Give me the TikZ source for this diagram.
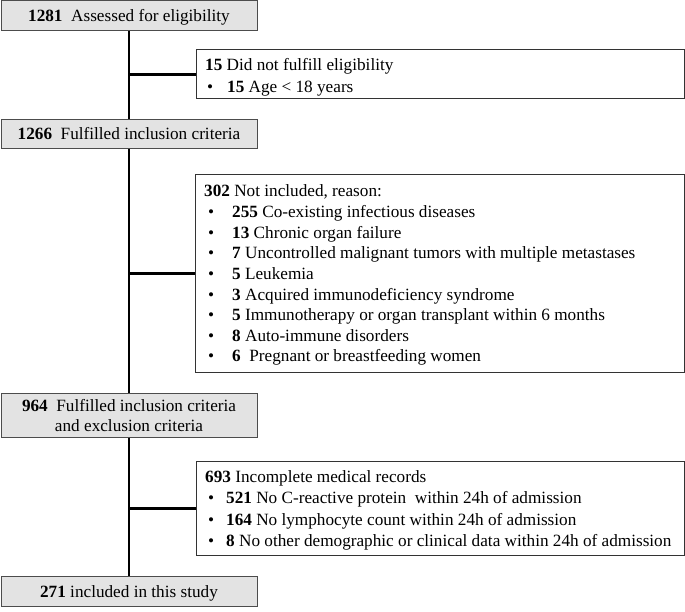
\documentclass[tikz,border=0pt]{standalone}
\usepackage{fontspec}
\setmainfont{Liberation Serif}
\begin{document}
\begin{tikzpicture}[x=1pt,y=-1pt,
  every node/.style={font=\fontsize{17.2}{20}\selectfont},
  graybox/.style={draw=black!70, fill=black!11, line width=1pt, inner sep=0pt, minimum width=256pt, align=center},
  sidebox/.style={draw=black!80, fill=white, line width=1pt, inner sep=0pt},
  conn/.style={line width=2.6pt, black},
  txt/.style={anchor=base west, inner sep=0pt},
  bul/.style={anchor=base west, inner sep=0pt}]
\useasboundingbox (0,0) rectangle (685,612);
% gray boxes
\node[graybox, minimum height=30pt] (b1) at (129,16) {};
\node[graybox, minimum height=29pt] (b3) at (129,134.5) {};
\node[graybox, minimum height=44pt] (b5) at (129,415) {};
\node[graybox, minimum height=30pt] (b7) at (129,591) {};
% trunk
\draw[conn] (b1.south) -- (b3.north);
\draw[conn] (b3.south) -- (b5.north);
\draw[conn] (b5.south) -- (b7.north);
% side boxes
\node[sidebox, minimum width=488pt, minimum height=49pt] (b2) at (440,74.5) {};
\node[sidebox, minimum width=489pt, minimum height=197pt] (b4) at (439.5,273.5) {};
\node[sidebox, minimum width=488pt, minimum height=94pt] (b6) at (440,508) {};
\draw[conn] (b2.west -| b1.south) -- (b2.west);
\draw[conn] (b4.west -| b1.south) -- (b4.west);
\draw[conn] ([yshift=-0.5pt]b6.west -| b1.south) -- ([yshift=-0.5pt]b6.west);
% gray box texts
\node[txt, anchor=base] (t1) at (129,22) {\textbf{1281}\hspace{0.5em}Assessed for eligibility};
\node[txt, anchor=base] (t3) at (129,140) {\textbf{1266}\hspace{0.5em}Fulfilled inclusion criteria};
\node[txt, anchor=base] (t5a) at (129,411) {\textbf{964}\hspace{0.5em}Fulfilled inclusion criteria};
\node[txt, anchor=base] (t5b) at (129,431) {and exclusion criteria};
\node[txt, anchor=base] (t7) at (129,597) {\textbf{271} included in this study};
% box 2 text
\node[txt] (t2a) at (205,71) {\textbf{15} Did not fulfill eligibility};
\node[bul] (u2b) at (207,93) {\textbullet};
\node[txt] (t2b) at (227,93) {\textbf{15} Age < 18 years};
% box 4 text
\node[txt] (t4a) at (204,197) {\textbf{302} Not included, reason:};
\foreach \i/\t in {1/{\textbf{255} Co-existing infectious diseases},
                   2/{\textbf{13} Chronic organ failure},
                   3/{\textbf{7} Uncontrolled malignant tumors with multiple metastases},
                   4/{\textbf{5} Leukemia},
                   5/{\textbf{3} Acquired immunodeficiency syndrome},
                   6/{\textbf{5} Immunotherapy or organ transplant within 6 months},
                   7/{\textbf{8} Auto-immune disorders},
                   8/{\textbf{6}\hspace{0.5em}Pregnant or breastfeeding women}}{
  \node[bul] (u4\i) at (208,197+20.6*\i) {\textbullet};
  \node[txt] (t4\i) at (232,197+20.6*\i) {\t};
}
% box 6 text
\node[txt] (t6a) at (205,482) {\textbf{693} Incomplete medical records};
\foreach \i/\t in {1/{\textbf{521} No C-reactive protein\hspace{0.5em}within 24h of admission},
                   2/{\textbf{164} No lymphocyte count within 24h of admission},
                   3/{\textbf{8} No other demographic or clinical data within 24h of admission}}{
  \node[bul] (u6\i) at (208,482+21.6*\i) {\textbullet};
  \node[txt] (t6\i) at (226,482+21.6*\i) {\t};
}
\end{tikzpicture}
\end{document}
